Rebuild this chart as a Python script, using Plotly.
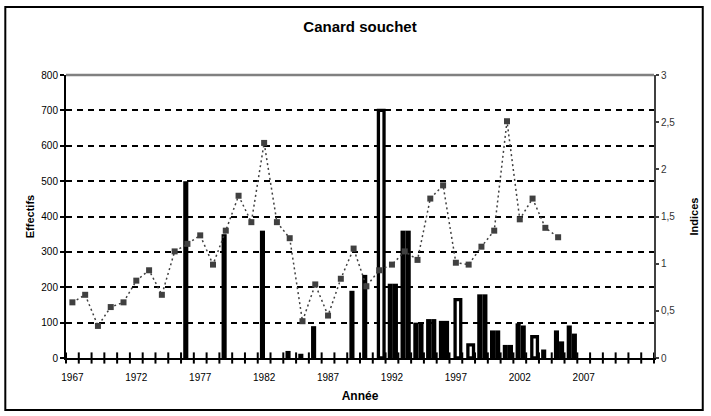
import plotly.graph_objects as go

# ---- data ----
bar_years = [1976, 1979, 1982, 1984, 1985, 1986, 1989, 1990, 1992, 1993, 1994,
             1995, 1996, 1999, 2000, 2001, 2002, 2004, 2005, 2006]
effectifs_a = [500, 350, 360, 20, 12, 90, 190, 235, 210, 360, 100,
               110, 105, 180, 78, 37, 98, 24, 78, 92]
effectifs_b = [None, None, None, None, None, None, None, None, 210, 360, 100,
               110, 105, 180, 78, 37, 92, None, 47, 69]
hollow_years = [1991, 1997, 1998, 2003]
hollow_vals = [700, 165, 37, 60]

index_years = list(range(1967, 2006))
indices = [0.59, 0.67, 0.34, 0.54, 0.59, 0.82, 0.93, 0.67, 1.13, 1.21,
           1.30, 0.99, 1.35, 1.72, 1.44, 2.28, 1.44, 1.27, 0.39, 0.78,
           0.45, 0.84, 1.16, 0.76, 0.93, 0.99, 1.13, 1.04, 1.69, 1.83,
           1.01, 0.99, 1.18, 1.35, 2.51, 1.47, 1.69, 1.38, 1.28]

label_years = [1967, 1972, 1977, 1982, 1987, 1992, 1997, 2002, 2007]
label_text = ["1967", "1972", "1977", "1982", "1987", "1992", "1997", "2002", "2007"]
right_vals = [0, 0.5, 1, 1.5, 2, 2.5, 3]
right_text = ["0", "0,5", "1", "1,5", "2", "2,5", "3"]

FONT = "Arial, Liberation Sans, sans-serif"
XR = [1966.5, 2012.5]
# category boundaries (tick marks crossing the x axis, Excel style)
boundaries = [XR[0] + i for i in range(int(XR[1] - XR[0]) + 1)]

fig = go.Figure()
fig.add_trace(go.Bar(x=bar_years, y=effectifs_a, offset=-0.33, width=0.4,
                     marker=dict(color="black", line=dict(width=0)), showlegend=False))
fig.add_trace(go.Bar(x=bar_years, y=effectifs_b, offset=0.07, width=0.4,
                     marker=dict(color="black", line=dict(width=0)), showlegend=False))
fig.add_trace(go.Bar(x=hollow_years, y=hollow_vals, offset=-0.06, width=0.44,
                     marker=dict(color="white", line=dict(color="black", width=3.3)),
                     showlegend=False))
# cross tick marks on the category axis
fig.add_trace(go.Scatter(x=boundaries, y=[0] * len(boundaries), mode="markers",
                         marker=dict(symbol="line-ns-open", size=8, color="black",
                                     line=dict(color="black", width=2)),
                         cliponaxis=False, showlegend=False, hoverinfo="skip"))
fig.add_trace(go.Scatter(x=index_years, y=indices, yaxis="y2", mode="lines+markers",
                         line=dict(color="#404040", width=1.5, dash="2px,3px"),
                         marker=dict(symbol="square", size=6, color="#404040"),
                         showlegend=False))

fig.update_layout(
    width=711, height=416,
    margin=dict(l=66, r=54, t=75, b=58),
    paper_bgcolor="white", plot_bgcolor="white",
    barmode="overlay",
    font=dict(family=FONT, color="black", size=10),
    title=dict(text="<b>Canard souchet</b>", font=dict(size=15, family=FONT),
               x=0.5, xref="paper", xanchor="center",
               y=1 - 27 / 416, yref="container", yanchor="middle"),
    xaxis=dict(range=XR, tickmode="array", tickvals=label_years, ticktext=label_text,
               ticks="outside", ticklen=9, tickcolor="rgba(0,0,0,0)",
               showline=True, linecolor="black", linewidth=2,
               showgrid=False, zeroline=False, tickfont=dict(size=10),
               title=dict(text="<b>Année</b>", font=dict(size=12), standoff=10)),
    yaxis=dict(range=[0, 800], dtick=100, ticks="outside", ticklen=4, tickwidth=2,
               tickcolor="black", showline=True, linecolor="black", linewidth=2,
               showgrid=True, gridcolor="black", gridwidth=2, griddash="6px,5px",
               zeroline=False, tickfont=dict(size=10),
               title=dict(text="<b>Effectifs</b>", font=dict(size=11), standoff=4)),
    yaxis2=dict(range=[0, 3], overlaying="y", side="right", anchor="x",
                tickmode="array", tickvals=right_vals, ticktext=right_text,
                ticks="outside", ticklen=3, tickwidth=2, tickcolor="#404040",
                showline=True, linecolor="#404040", linewidth=2,
                showgrid=False, zeroline=False, tickfont=dict(size=10, color="#333333"),
                title=dict(text="<b>Indices</b>", font=dict(size=11), standoff=16)),
    shapes=[
        dict(type="rect", xref="paper", yref="paper",
             x0=(5 - 66) / 591, x1=(706 - 66) / 591,
             y0=(358 - 410) / 283, y1=(358 - 7) / 283,
             line=dict(color="black", width=2), fillcolor="rgba(0,0,0,0)",
             layer="below"),
        dict(type="line", xref="paper", yref="paper", x0=0, x1=1, y0=1, y1=1,
             line=dict(color="#808080", width=2.5), layer="above"),
    ],
)

fig.write_html("out.html", config={"displayModeBar": False},
               post_script="document.body.style.margin='0';")
